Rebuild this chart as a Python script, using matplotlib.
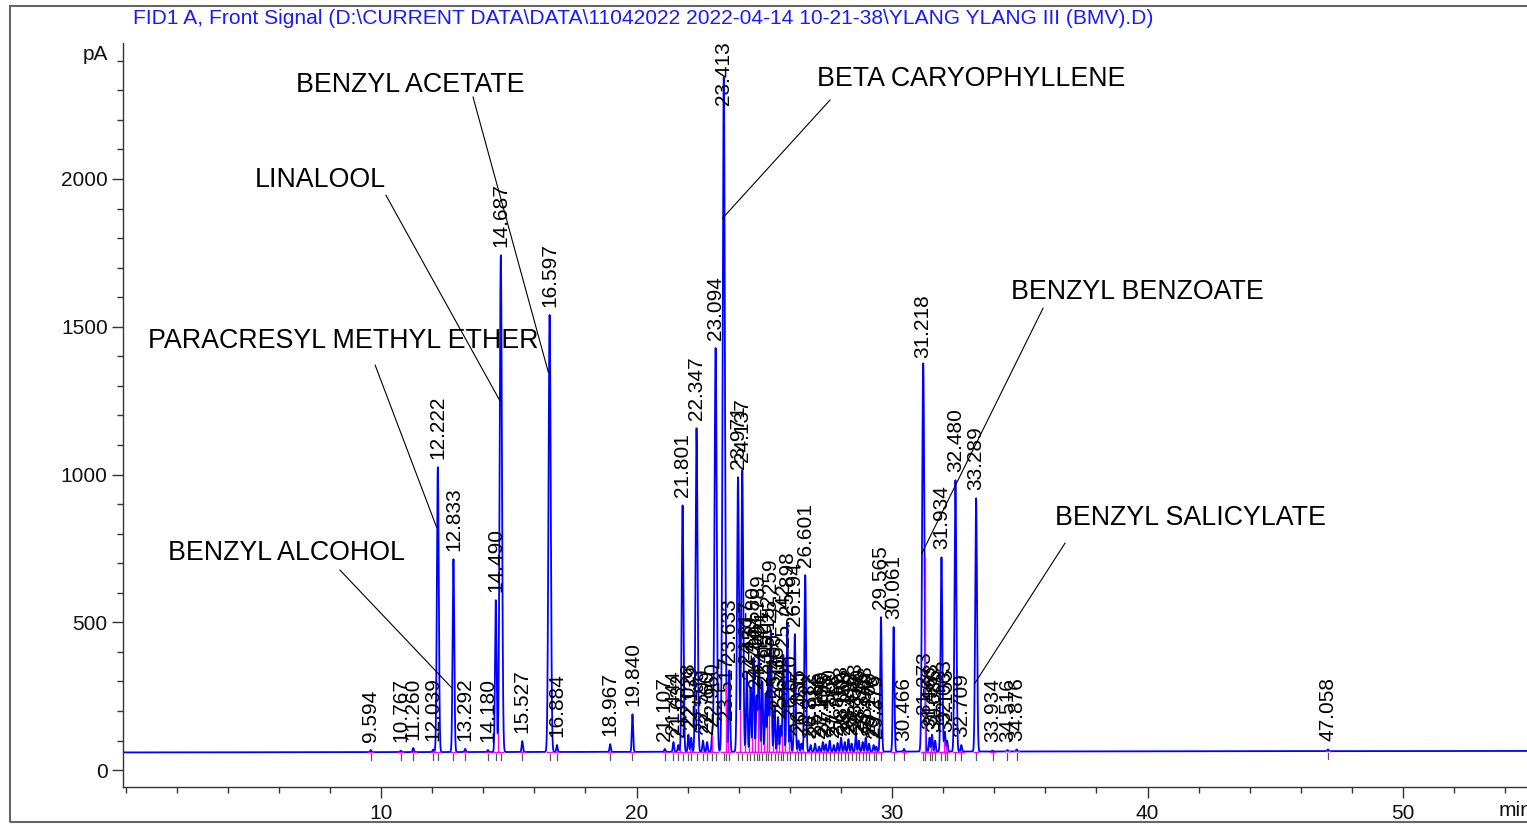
import matplotlib.pyplot as plt
from matplotlib.patches import Rectangle
from matplotlib.ticker import MultipleLocator
import numpy as np

plt.rcParams['font.family'] = ['Liberation Sans', 'DejaVu Sans']

title = r"FID1 A, Front Signal (D:\CURRENT DATA\DATA\11042022 2022-04-14 10-21-38\YLANG YLANG III (BMV).D)"

# peak retention times (min) and apex signal (pA, including baseline)
rts = [9.594, 10.767, 11.260, 12.039, 12.222, 12.833, 13.292, 14.180, 14.490, 14.687,
       15.527, 16.597, 16.884, 18.967, 19.840,
       21.107, 21.444, 21.632, 21.801, 22.028, 22.139, 22.347, 22.599, 22.760, 22.960,
       23.094, 23.413, 23.517, 23.633, 23.971, 24.137,
       24.317, 24.459, 24.580, 24.700, 24.789, 24.921, 25.050, 25.152, 25.259, 25.400,
       25.535, 25.640, 25.742, 25.898, 26.020, 26.194, 26.335, 26.450, 26.601,
       26.812, 26.986, 27.146, 27.290, 27.405, 27.560, 27.718, 27.866, 28.003, 28.150,
       28.292, 28.418, 28.583, 28.700, 28.846, 28.968, 29.100, 29.278, 29.379,
       29.565, 30.061, 30.466, 31.218, 31.273, 31.466, 31.563, 31.686, 31.934, 32.063,
       32.153, 32.480, 32.709, 33.289, 33.934, 34.516, 34.876, 47.058]
heights = [68, 66, 75, 70, 1025, 714, 72, 68, 575, 1742,
           98, 1540, 85, 88, 189,
           72, 95, 85, 896, 120, 110, 1157, 100, 95, 120,
           1428, 2344, 140, 338, 991, 1015,
           330, 280, 380, 250, 420, 300, 260, 350, 473, 220,
           180, 150, 390, 497, 150, 460, 100, 90, 660,
           85, 90, 80, 95, 88, 100, 85, 92, 110, 95,
           105, 90, 120, 100, 95, 110, 90, 85, 80,
           518, 484, 72, 1367, 160, 110, 120, 100, 720, 130,
           100, 981, 85, 920, 66, 68, 70, 70]

# baseline level read at both ends of the run
base_t = [0.0, 55.0]
base_v = [60.0, 65.0]

# named compounds: (label, peak it points at)
compounds = ["BENZYL ACETATE", "LINALOOL", "BETA CARYOPHYLLENE", "PARACRESYL METHYL ETHER",
             "BENZYL ALCOHOL", "BENZYL BENZOATE", "BENZYL SALICYLATE"]
compound_rt = [16.597, 14.687, 23.413, 12.222, 12.833, 31.218, 33.289]

# build the trace
t = np.arange(-0.2, 55.2, 0.002)
base = np.interp(t, base_t, base_v)
sig = np.zeros_like(t)
for rt, h in zip(rts, heights):
    hb = h - np.interp(rt, base_t, base_v)
    s = 0.024 + 0.02 * min(hb, 1500) / 1500
    sig += hb * np.exp(-0.5 * ((t - rt) / s) ** 2)
trace = base + sig

W, H = 1527, 832
fig = plt.figure(figsize=(W / 100, H / 100), dpi=100)
ax = fig.add_axes([123 / W, 1 - 787 / H, (W - 123) / W + 0.02, (787 - 43) / H])

ax.plot(t, trace, color='#0000ff', lw=1.3, zorder=3)

# integration baseline segments, peak ticks and drop lines
for rt in rts:
    b = np.interp(rt, base_t, base_v)
    ax.plot([rt - 0.09, rt + 0.09], [b, b], color='#ff00ff', lw=1.0, zorder=4)
    ax.plot([rt, rt], [b - 6, b - 28], color='#555555', lw=0.9, zorder=2)
for a, b2 in zip(rts[:-1], rts[1:]):
    if b2 - a < 0.3:
        i0, i1 = np.searchsorted(t, a), np.searchsorted(t, b2)
        lo = np.argmin(trace[i0:i1]) + i0
        ax.plot([t[lo], t[lo]], [base[lo], trace[lo]], color='#ff00ff', lw=1.0, zorder=4)

# retention time labels
for rt, h in zip(rts, heights):
    ax.text(rt, min(h + 28, 2250), f"{rt:.3f}", rotation=90, ha='center', va='bottom',
            fontsize=15, color='black', clip_on=False, zorder=5)

# compound annotations (text position and leader start in data units)
text_xy = [(11.14, 2317), (7.61, 1996), (33.09, 2338), (8.51, 1451),
           (6.28, 734), (39.59, 1617), (41.66, 852)]
lead_start = [(13.6, 2277), (10.19, 1945), (27.57, 2267), (9.77, 1370),
              (8.39, 677), (35.91, 1563), (36.77, 768)]
lead_end_y = [1346, 1252, 1867, 822, 277, 734, 294]
for name, rt, (tx, ty), (sx, sy), ey in zip(compounds, compound_rt, text_xy, lead_start, lead_end_y):
    ax.text(tx, ty, name, fontsize=19.3, ha='center', va='center', color='black', zorder=6)
    ax.plot([sx, rt - 0.05], [sy, ey], color='black', lw=0.8, zorder=6)

ax.set_xlim(-0.1, 54.85 + 0.02 * W / 25.55)
ax.set_ylim(-57, 2460)
ax.xaxis.set_major_locator(MultipleLocator(10))
ax.xaxis.set_minor_locator(MultipleLocator(2))
ax.yaxis.set_major_locator(MultipleLocator(500))
ax.yaxis.set_minor_locator(MultipleLocator(100))
ax.set_xticks([10, 20, 30, 40, 50])
ax.tick_params(axis='both', which='major', direction='out', length=8, width=1,
               labelsize=15, color='#333333', labelcolor='#111111')
ax.tick_params(axis='both', which='minor', direction='out', length=4.5, width=1, color='#333333')
ax.tick_params(axis='x', pad=4)
ax.tick_params(axis='y', pad=3)
for side in ['top', 'right']:
    ax.spines[side].set_visible(False)
for side in ['left', 'bottom']:
    ax.spines[side].set_color('#333333')
    ax.spines[side].set_linewidth(1)

fig.text(108 / W, 1 - 55 / H, "pA", fontsize=15, ha='right', va='center', color='#111111')
fig.text(1499 / W, 1 - 811 / H, "min", fontsize=15, ha='left', va='center', color='#111111')
fig.text(133 / W, 1 - 19 / H, title, fontsize=15.1, ha='left', va='center', color='#1a1aff')

fig.patches.append(Rectangle((10 / W, 1 - 822 / H), 1.0, (822 - 6) / H, transform=fig.transFigure,
                             fill=False, edgecolor='#666666', lw=1.5))

fig.savefig('out.png', dpi=100)
